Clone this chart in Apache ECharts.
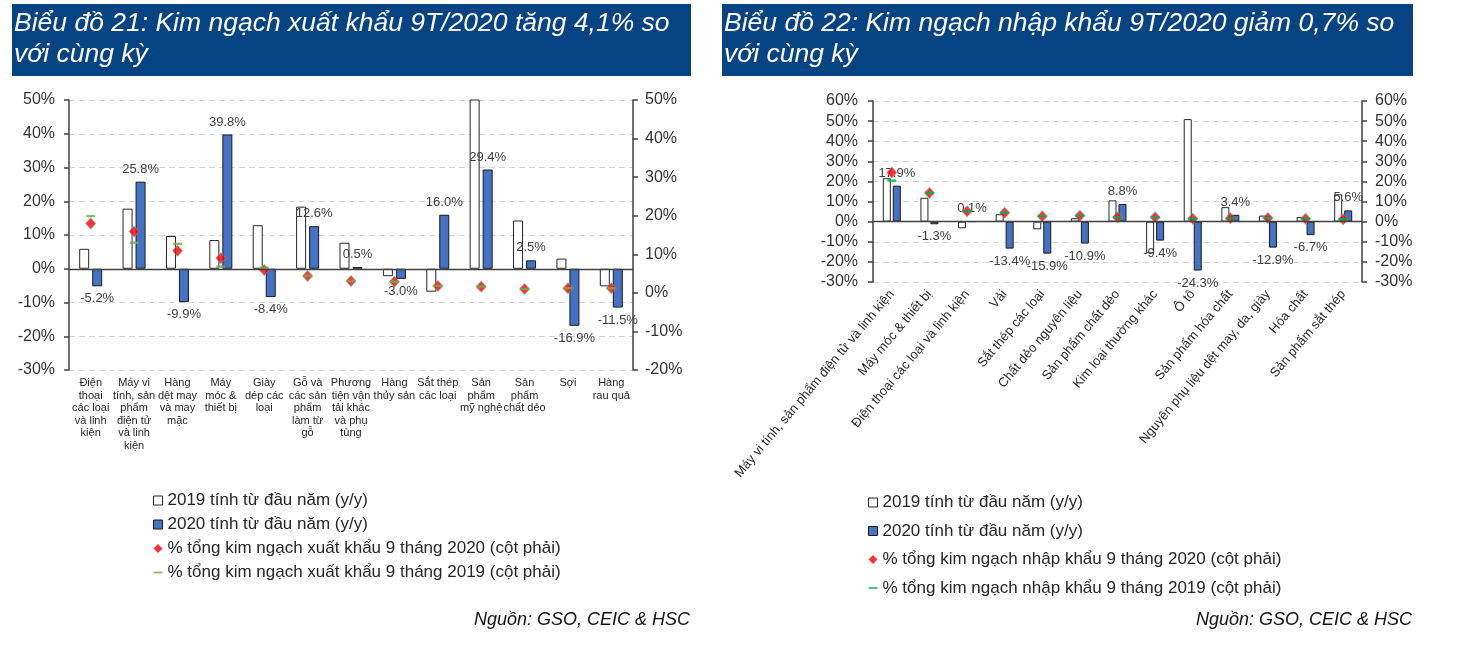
<!DOCTYPE html>
<html>
<head>
<meta charset="utf-8">
<script src="https://cdn.jsdelivr.net/npm/echarts@6/dist/echarts.min.js"></script>
<style>
html,body{margin:0;padding:0;background:#fff;}
#c{width:1466px;height:670px;}
</style>
</head>
<body>
<div id="c"></div>
<script>
// ---------- Chart 21 (exports) ----------
var exCategories = ["Điện\nthoại\ncác loại\nvà linh\nkiện", "Máy vi\ntính, sản\nphẩm\nđiện tử\nvà linh\nkiện", "Hàng\ndệt may\nvà may\nmặc", "Máy\nmóc &\nthiết bị", "Giày\ndép các\nloại", "Gỗ và\ncác sản\nphẩm\nlàm từ\ngỗ", "Phương\ntiện vận\ntải khác\nvà phụ\ntùng", "Hàng\nthủy sản", "Sắt thép\ncác loại", "Sản\nphẩm\nmỹ nghệ", "Sản\nphẩm\nchất dẻo", "Sợi", "Hàng\nrau quả"];
var ex2019 = [5.9, 17.8, 9.7, 8.5, 12.9, 18.4, 7.7, -2.2, -6.8, 60.0, 14.3, 3.0, -5.2];
var ex2020 = [-5.2, 25.8, -9.9, 39.8, -8.4, 12.6, 0.5, -3.0, 16.0, 29.4, 2.5, -16.9, -11.5];
var exShare2020 = [18.0, 15.9, 10.9, 9.0, 5.9, 4.4, 3.1, 2.9, 1.8, 1.6, 1.0, 1.2, 1.2];
var exShare2019 = [19.9, 13.0, 12.7, 6.8, 6.5, 4.4, 3.1, 2.9, 1.8, 1.6, 1.0, 1.2, 1.2];
var exLeftTicks = {min: -30, max: 50, interval: 10};
var exRightTicks = {min: -20, max: 50, interval: 10};

// ---------- Chart 22 (imports) ----------
var imCategories = ["Máy vi tính, sản phẩm điện tử và linh kiện", "Máy móc & thiết bị", "Điện thoại các loại và linh kiện", "Vải", "Sắt thép các loại", "Chất dẻo nguyên liệu", "Sản phẩm chất dẻo", "Kim loại thường khác", "Ô tô", "Sản phẩm hóa chất", "Nguyên phụ liệu dệt may, da, giày", "Hóa chất", "Sản phẩm sắt thép"];
var im2019 = [21.6, 11.9, -3.3, 3.7, -3.8, 1.7, 10.6, -15.7, 51.0, 7.2, 3.0, 2.3, 13.6];
var im2020 = [17.9, -1.3, 0.1, -13.4, -15.9, -10.9, 8.8, -9.4, -24.3, 3.4, -12.9, -6.7, 5.6];
var imShare2020 = [24.4, 14.3, 5.2, 4.4, 2.7, 3.0, 2.2, 2.2, 1.5, 1.7, 1.8, 1.5, 1.2];
var imShare2019 = [20.4, 14.3, 5.2, 4.4, 2.7, 3.0, 2.2, 2.2, 1.5, 1.7, 1.8, 1.5, 1.2];
var imLeftTicks = {min: -30, max: 60, interval: 10};
var imRightTicks = {min: -30, max: 60, interval: 10};

// ---------- Texts ----------
var title21 = "Biểu đồ 21: Kim ngạch xuất khẩu 9T/2020 tăng 4,1% so\nvới cùng kỳ";
var title22 = "Biểu đồ 22: Kim ngạch nhập khẩu 9T/2020 giảm 0,7% so\nvới cùng kỳ";
var sourceText = "Nguồn: GSO, CEIC & HSC";
var name2019 = "2019 tính từ đầu năm (y/y)";
var name2020 = "2020 tính từ đầu năm (y/y)";
var exNameS20 = "% tổng kim ngạch xuất khẩu 9 tháng 2020 (cột phải)";
var exNameS19 = "% tổng kim ngạch xuất khẩu 9 tháng 2019 (cột phải)";
var imNameS20 = "% tổng kim ngạch nhập khẩu 9 tháng 2020 (cột phải)";
var imNameS19 = "% tổng kim ngạch nhập khẩu 9 tháng 2019 (cột phải)";

var FONT = "'Liberation Sans', Arial, sans-serif";
var AXC = '#404040';

function yAx(grid, t, pos, split, margin) {
  return {
    type: 'value', gridIndex: grid, position: pos,
    min: t.min, max: t.max, interval: t.interval,
    axisLine: {show: true, lineStyle: {color: AXC, width: 1.5}},
    axisTick: {show: true, length: 5, lineStyle: {color: AXC, width: 1.5}},
    axisLabel: {formatter: '{value}%', fontSize: 16, color: '#333', fontFamily: FONT, margin: margin},
    splitLine: {show: split, lineStyle: {color: '#d6d6d6', type: [6, 4], width: 1}}
  };
}

function barData(arr) {
  return arr.map(function (v) { return {value: v, label: {position: v < 0 ? 'bottom' : 'top'}}; });
}

function makeSeries(xi, yL, yR, d19, d20, s20, s19, nS20, nS19, barW, gap, green) {
  return [
    {
      name: name2019, type: 'bar', xAxisIndex: xi, yAxisIndex: yL, data: d19,
      barWidth: barW, barGap: gap,
      itemStyle: {color: '#ffffff', borderColor: '#262626', borderWidth: 1},
      markLine: {
        silent: true, symbol: ['none', 'none'], label: {show: false},
        lineStyle: {color: AXC, width: 1.3, type: 'solid'},
        data: [{yAxis: 0}]
      }
    },
    {
      name: name2020, type: 'bar', xAxisIndex: xi, yAxisIndex: yL, data: barData(d20),
      barWidth: barW, barGap: gap,
      itemStyle: {color: '#4472C4', borderColor: '#1a1a1a', borderWidth: 1},
      label: {
        show: true, fontSize: 13, color: '#404040', fontFamily: FONT, distance: 6,
        formatter: function (p) { return p.value.toFixed(1) + '%'; }
      }
    },
    {
      name: nS20, type: 'scatter', xAxisIndex: xi, yAxisIndex: yR, data: s20,
      symbol: 'diamond', symbolSize: [10, 11],
      itemStyle: {color: '#ff0000', borderColor: 'rgba(150,150,150,0.7)', borderWidth: 1}
    },
    {
      name: nS19, type: 'scatter', xAxisIndex: xi, yAxisIndex: yR, data: s19,
      symbol: 'rect', symbolSize: [9, 2.5],
      itemStyle: {color: green}
    }
  ];
}

var dashIcon = 'path://M0,0L10,0L10,2L0,2Z';
function legendData(nS20, nS19) {
  return [
    {name: name2019, icon: 'rect', itemStyle: {borderColor: '#262626', borderWidth: 1}},
    {name: name2020, icon: 'rect', itemStyle: {borderColor: '#1a1a1a', borderWidth: 1}},
    {name: nS20, icon: 'diamond', itemStyle: {borderWidth: 0}},
    {name: nS19, icon: dashIcon, itemStyle: {borderWidth: 0}}
  ];
}

var chart = echarts.init(document.getElementById('c'), null, {renderer: 'canvas'});
var option = {
  animation: false,
  backgroundColor: '#ffffff',
  textStyle: {fontFamily: FONT},
  grid: [
    {left: 69, top: 100, width: 564, height: 270, containLabel: false},
    {left: 873, top: 101, width: 489, height: 181, containLabel: false}
  ],
  xAxis: [
    {
      type: 'category', gridIndex: 0, data: exCategories, position: 'bottom',
      axisLine: {show: false, onZero: false}, axisTick: {show: false},
      axisLabel: {interval: 0, fontSize: 11, lineHeight: 12.5, color: '#262626', fontFamily: FONT, margin: 7}
    },
    {
      type: 'category', gridIndex: 1, data: imCategories, position: 'bottom',
      axisLine: {show: false, onZero: false}, axisTick: {show: false},
      axisLabel: {interval: 0, rotate: 50, fontSize: 13, color: '#262626', fontFamily: FONT, margin: 10}
    }
  ],
  yAxis: [
    yAx(0, exLeftTicks, 'left', true, 14),
    yAx(0, exRightTicks, 'right', false, 12),
    yAx(1, imLeftTicks, 'left', true, 15),
    yAx(1, imRightTicks, 'right', false, 13)
  ],
  legend: [
    {
      orient: 'vertical', left: 148, top: 487, itemWidth: 9, itemHeight: 9, itemGap: 7,
      textStyle: {fontSize: 17, lineHeight: 17, color: '#262626', fontFamily: FONT},
      data: legendData(exNameS20, exNameS19), selectedMode: false
    },
    {
      orient: 'vertical', left: 863, top: 489, itemWidth: 9, itemHeight: 9, itemGap: 11.5,
      textStyle: {fontSize: 17, lineHeight: 17, color: '#262626', fontFamily: FONT},
      data: legendData(imNameS20, imNameS19), selectedMode: false
    }
  ],
  graphic: [
    {type: 'rect', left: 12, top: 4, shape: {width: 679, height: 72}, style: {fill: '#064382'}, silent: true},
    {type: 'rect', left: 722, top: 4, shape: {width: 691, height: 72}, style: {fill: '#064382'}, silent: true},
    {type: 'text', left: 14, top: 8, style: {text: title21, fill: '#ffffff', font: "italic 26.5px 'Liberation Sans', Arial, sans-serif", lineHeight: 31}, silent: true},
    {type: 'text', left: 724, top: 8, style: {text: title22, fill: '#ffffff', font: "italic 26.5px 'Liberation Sans', Arial, sans-serif", lineHeight: 31}, silent: true},
    {type: 'text', right: 1466 - 690, top: 611, style: {text: sourceText, fill: '#111', font: "italic 18px 'Liberation Sans', Arial, sans-serif"}, silent: true},
    {type: 'text', right: 1466 - 1412, top: 611, style: {text: sourceText, fill: '#111', font: "italic 18px 'Liberation Sans', Arial, sans-serif"}, silent: true}
  ],
  series: []
    .concat(makeSeries(0, 0, 1, ex2019, ex2020, exShare2020, exShare2019, exNameS20, exNameS19, 10, '30%', '#70AD47'))
    .concat(makeSeries(1, 2, 3, im2019, im2020, imShare2020, imShare2019, imNameS20, imNameS19, 8, '25%', '#00B050'))
};
chart.setOption(option);
</script>
</body>
</html>
